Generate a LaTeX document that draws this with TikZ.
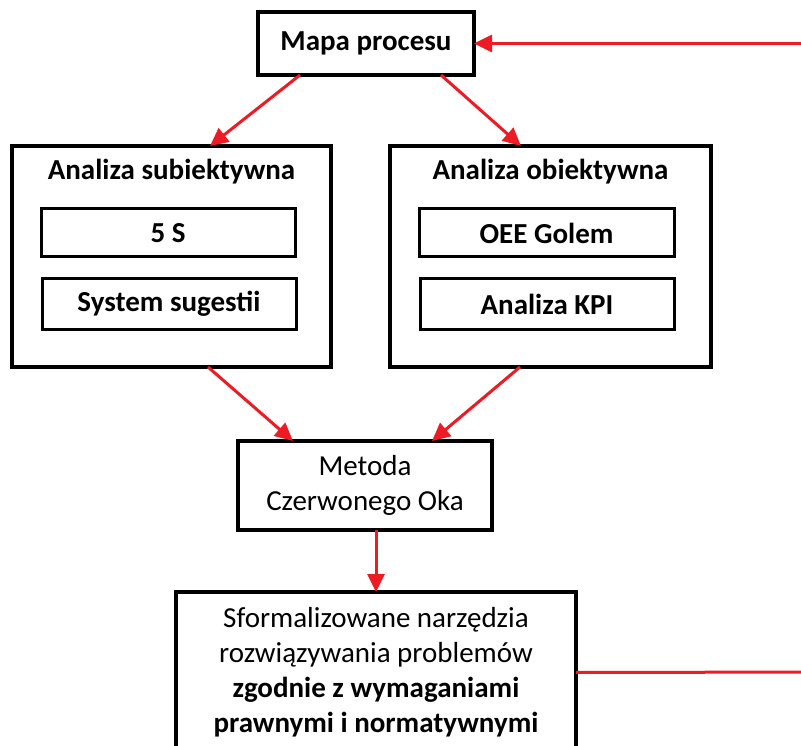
\documentclass[tikz,border=0pt]{standalone}
\usepackage{fontspec}
\setmainfont{Carlito}
\usetikzlibrary{arrows.meta,calc}
\definecolor{arrred}{RGB}{237,28,36}
\begin{document}
\begin{tikzpicture}[x=1pt,y=-1pt,
  bigbox/.style={draw=black,line width=3.5pt,inner sep=0pt,outer sep=0pt},
  smallbox/.style={draw=black,line width=3pt,inner sep=0pt,outer sep=0pt,font=\fontsize{29}{35}\selectfont\bfseries},
  txtbox/.style={draw=black,line width=3.5pt,inner sep=0pt,outer sep=0pt,align=center,font=\fontsize{29}{35}\selectfont},
  title/.style={font=\fontsize{29}{35}\selectfont\bfseries,inner sep=0pt},
  arr/.style={draw=arrred,line width=3pt,-{Triangle[length=18pt,width=17pt]}},
  feed/.style={draw=arrred,line width=3pt}]
\useasboundingbox (0,0) rectangle (801,746);
\clip (0,0) rectangle (801,746);
\fill[white] (0,0) rectangle (801,746);
% top
\node[txtbox,minimum width=216,minimum height=63,font=\fontsize{29}{35}\selectfont\bfseries] (mapa) at (366,43.5) {Mapa procesu};
% left group
\node[bigbox,minimum width=319,minimum height=221] (subj) at (171.5,256.5) {};
\node[title] (subjt) at (171.5,172) {Analiza subiektywna};
\node[smallbox,minimum width=254,minimum height=48] (fives) at (168,233) {5 S};
\node[smallbox,minimum width=254,minimum height=50] (sys) at (169,304) {System sugestii};
% right group
\node[bigbox,minimum width=321,minimum height=221] (obj) at (550.5,256.5) {};
\node[title] (objt) at (550.5,172) {Analiza obiektywna};
\node[smallbox,minimum width=255,minimum height=48] (oee) at (546.5,233) {OEE Golem};
\node[smallbox,minimum width=254,minimum height=50] (kpi) at (547,304) {Analiza KPI};
% middle
\node[txtbox,minimum width=254,minimum height=89] (metoda) at (365,485.5) {Metoda\\Czerwonego Oka};
% bottom
\node[txtbox,minimum width=400,minimum height=161] (bot) at (376,672.5)
  {Sformalizowane narzędzia\\rozwiązywania problemów\\\textbf{zgodnie z wymaganiami}\\\textbf{prawnymi i normatywnymi}};
% arrows
\draw[arr] ($(mapa.south west)+(42,0)$) -- ($(subj.north west)+(198,0)$);
\draw[arr] ($(mapa.south west)+(183,0)$) -- ($(obj.north west)+(131,0)$);
\draw[arr] ($(subj.south west)+(196,0)$) -- ($(metoda.north west)+(55,0)$);
\draw[arr] ($(obj.south west)+(130,0)$) -- ($(metoda.north west)+(194,0)$);
\draw[arr] (metoda.south -| bot.north) -- (bot.north);
\coordinate (fr) at (830,672);
\draw[feed] (bot.east) -- (fr);
\draw[arr] (fr) -- (fr |- mapa.east) -- (mapa.east);
\end{tikzpicture}
\end{document}
